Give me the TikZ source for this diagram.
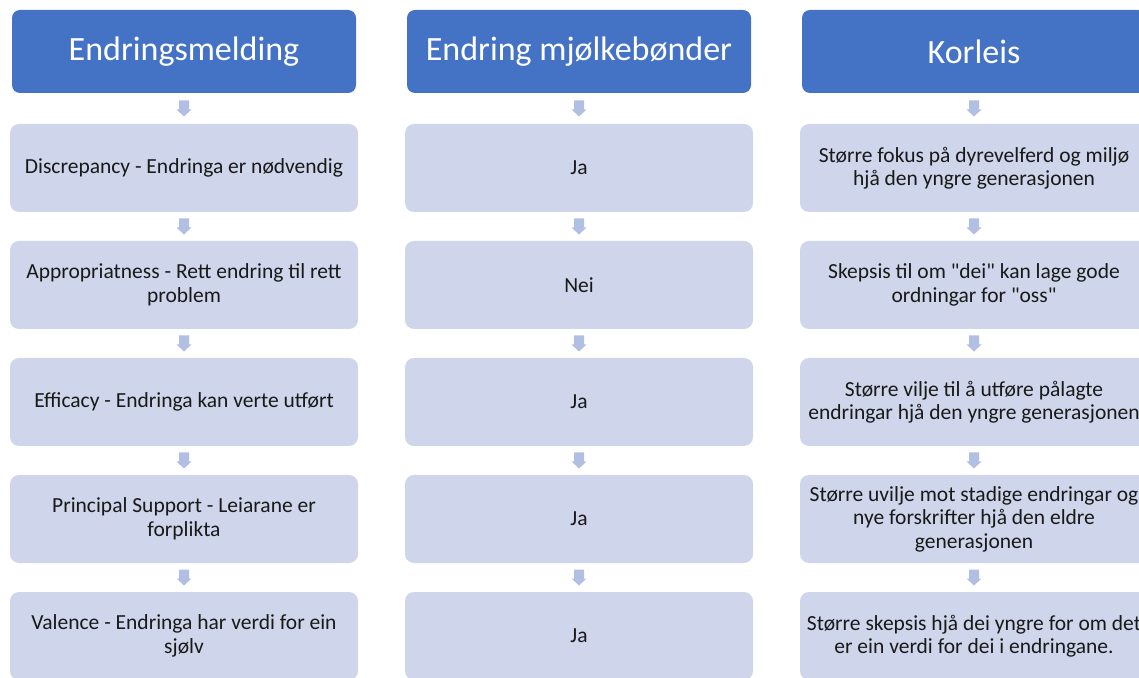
\documentclass[tikz,border=0pt]{standalone}
\usepackage{fontspec}
\setmainfont{Carlito}[Ligatures=TeXOff]
\usetikzlibrary{calc}
\definecolor{hdr}{HTML}{4472C4}
\definecolor{bx}{HTML}{CFD5EA}
\definecolor{arr}{HTML}{B1BFE2}
\tikzset{
  hdrbox/.style={fill=hdr, rounded corners=8pt, minimum width=344pt, minimum height=83pt,
    text=white, font=\fontsize{34}{40}\selectfont, inner sep=0pt},
  itembox/.style={fill=bx, rounded corners=9pt, minimum width=348pt, minimum height=88pt,
    font=\fontsize{21.5}{23.5}\selectfont, align=center, inner sep=0pt, text=black!90},
  flowarrow/.style={fill=arr}
}
\newcommand\flowarr[2]{%
  \fill[flowarrow, shift={($(#1.south)!0.5!(#2.north)$)}]
    (-5,8) -- (5,8) -- (5,-1) -- (7.5,-1) -- (0,-8) -- (-7.5,-1) -- (-5,-1) -- cycle;}
\begin{document}
\begin{tikzpicture}[x=1pt,y=1pt]
\useasboundingbox (0,0) rectangle (1139,677);
\clip (0,0) rectangle (1139,677);
% headers
\node[hdrbox] (h1) at (184,677-51.5) {Endringsmelding};
\node[hdrbox] (h2) at (579,677-51.5) {Endring mjølkebønder};
\node[hdrbox] (h3) at (974,677-51.5) {Korleis};
% column 1
\node[itembox] (a1) at (184,677-168) {Discrepancy - Endringa er nødvendig};
\node[itembox] (a2) at (184,677-285) {Appropriatness - Rett endring til rett\\problem};
\node[itembox] (a3) at (184,677-402) {Efficacy - Endringa kan verte utført};
\node[itembox] (a4) at (184,677-519) {Principal Support - Leiarane er\\forplikta};
\node[itembox] (a5) at (184,677-636) {Valence - Endringa har verdi for ein\\sjølv};
% column 2
\node[itembox] (b1) at (579,677-168) {Ja};
\node[itembox] (b2) at (579,677-285) {Nei};
\node[itembox] (b3) at (579,677-402) {Ja};
\node[itembox] (b4) at (579,677-519) {Ja};
\node[itembox] (b5) at (579,677-636) {Ja};
% column 3
\node[itembox] (c1) at (974,677-168) {Større fokus på dyrevelferd og miljø\\hjå den yngre generasjonen};
\node[itembox] (c2) at (974,677-285) {Skepsis til om "dei" kan lage gode\\ordningar for "oss"};
\node[itembox] (c3) at (974,677-402) {Større vilje til å utføre pålagte\\endringar hjå den yngre generasjonen};
\node[itembox] (c4) at (974,677-519) {Større uvilje mot stadige endringar og\\nye forskrifter hjå den eldre\\generasjonen};
\node[itembox] (c5) at (974,677-636) {Større skepsis hjå dei yngre for om det\\er ein verdi for dei i endringane.};
% arrows
\flowarr{h1}{a1}\flowarr{a1}{a2}\flowarr{a2}{a3}\flowarr{a3}{a4}\flowarr{a4}{a5}
\flowarr{h2}{b1}\flowarr{b1}{b2}\flowarr{b2}{b3}\flowarr{b3}{b4}\flowarr{b4}{b5}
\flowarr{h3}{c1}\flowarr{c1}{c2}\flowarr{c2}{c3}\flowarr{c3}{c4}\flowarr{c4}{c5}
\end{tikzpicture}
\end{document}
